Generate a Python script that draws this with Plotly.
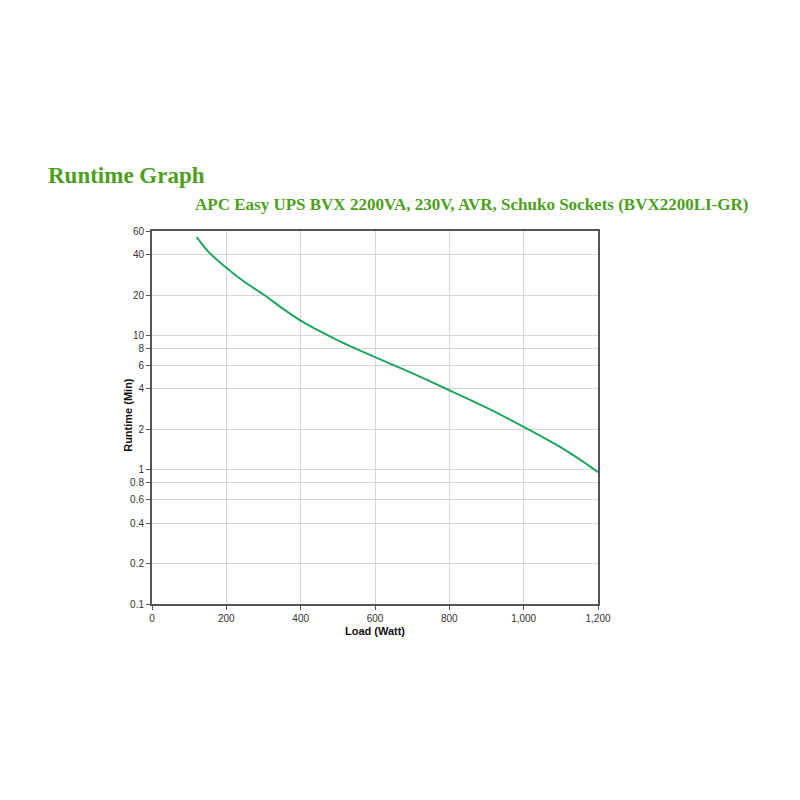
import plotly.graph_objects as go

# Runtime curve
load_watt = [120, 150, 200, 250, 300, 350, 400, 450, 500, 600, 700, 800, 900, 1000, 1100, 1150, 1200]
runtime_min = [54, 42.5, 31.9, 24.9, 20.2, 16.0, 12.9, 10.8, 9.2, 6.9, 5.25, 3.91, 2.9, 2.09, 1.47, 1.2, 0.96]

y_ticks = [0.1, 0.2, 0.4, 0.6, 0.8, 1, 2, 4, 6, 8, 10, 20, 40, 60]
y_labels = ['0.1', '0.2', '0.4', '0.6', '0.8', '1', '2', '4', '6', '8', '10', '20', '40', '60']
x_ticks = [0, 200, 400, 600, 800, 1000, 1200]
x_labels = ['0', '200', '400', '600', '800', '1,000', '1,200']

fig = go.Figure()
fig.add_trace(go.Scatter(
    x=load_watt, y=runtime_min,
    mode='lines',
    line=dict(color='#1ea65f', width=2, shape='spline', smoothing=0.5),
    showlegend=False
))

tick_font = dict(family='Arial, Liberation Sans', size=10, color='#333333')
title_green = '#4c9f1c'

fig.update_layout(
    width=800, height=800,
    plot_bgcolor='white', paper_bgcolor='white',
    margin=dict(l=144, r=210, t=223, b=204),
    xaxis=dict(
        range=[0, 1200], tickvals=x_ticks, ticktext=x_labels,
        showgrid=True, gridcolor='#d6d6d6', gridwidth=1,
        showline=True, linecolor='#555555', linewidth=2, mirror=True,
        ticks='outside', ticklen=4, tickcolor='#555555',
        tickfont=tick_font, zeroline=False,
        title=dict(text='<b>Load (Watt)</b>', font=dict(family='Arial, Liberation Sans', size=11, color='#111111'), standoff=4)
    ),
    yaxis=dict(
        type='log', range=[-1, 1.7782],
        tickvals=y_ticks, ticktext=y_labels,
        showgrid=True, gridcolor='#d6d6d6', gridwidth=1,
        showline=True, linecolor='#555555', linewidth=2, mirror=True,
        ticks='outside', ticklen=4, tickcolor='#555555',
        tickfont=tick_font, zeroline=False
    ),
    annotations=[
        dict(text='<b>Runtime Graph</b>', xref='paper', yref='paper',
             x=-0.237, y=1.150, xanchor='left', yanchor='middle', showarrow=False,
             font=dict(family='Liberation Serif, Times New Roman', size=23, color=title_green)),
        dict(text='<b>APC Easy UPS BVX 2200VA, 230V, AVR, Schuko Sockets (BVX2200LI-GR)</b>',
             xref='paper', yref='paper',
             x=1.343, y=1.072, xanchor='right', yanchor='middle', showarrow=False,
             font=dict(family='Liberation Serif, Times New Roman', size=17, color=title_green)),
        dict(text='<b>Runtime (Min)</b>', xref='paper', yref='paper',
             x=-0.054, y=0.507, xanchor='center', yanchor='middle', textangle=-90, showarrow=False,
             font=dict(family='Arial, Liberation Sans', size=11, color='#111111')),
    ]
)

fig.write_html('out.html')
